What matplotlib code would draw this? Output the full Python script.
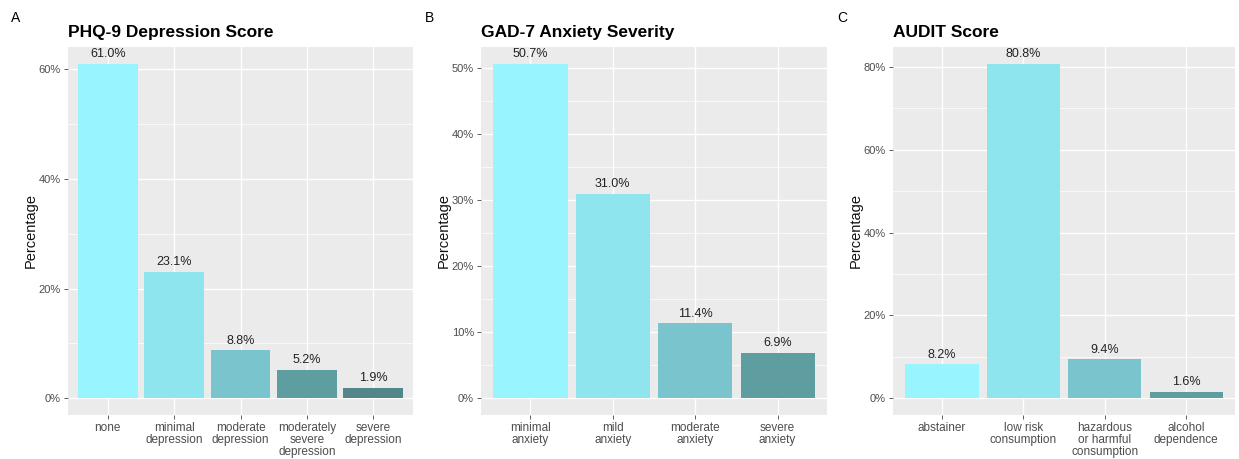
import numpy as np
import matplotlib.pyplot as plt
from matplotlib.ticker import MultipleLocator, FuncFormatter

plt.rcParams['font.family'] = ['Liberation Sans', 'DejaVu Sans']

# panel A
phq_labels = ["none", "minimal\ndepression", "moderate\ndepression",
              "moderately\nsevere\ndepression", "severe\ndepression"]
phq_values = [61.0, 23.1, 8.8, 5.2, 1.9]
phq_colors = ["#98F5FF", "#8EE5EE", "#7AC5CD", "#5F9EA0", "#53868B"]

# panel B
gad_labels = ["minimal\nanxiety", "mild\nanxiety", "moderate\nanxiety", "severe\nanxiety"]
gad_values = [50.7, 31.0, 11.4, 6.9]
gad_colors = ["#98F5FF", "#8EE5EE", "#7AC5CD", "#5F9EA0"]

# panel C
audit_labels = ["abstainer", "low risk\nconsumption", "hazardous\nor harmful\nconsumption",
                "alcohol\ndependence"]
audit_values = [8.2, 80.8, 9.4, 1.6]
audit_colors = ["#98F5FF", "#8EE5EE", "#7AC5CD", "#5F9EA0"]

W, H = 1239, 459
fig = plt.figure(figsize=(W / 100, H / 100), dpi=100)


def panel(left, right, letter, letter_x, title, labels, values, colors, major, minor):
    ax = fig.add_axes([left / W, 1 - 415 / H, (right - left) / W, (415 - 47) / H])
    ax.set_facecolor("#EBEBEB")
    x = np.arange(len(values))
    top = max(values) * 1.05
    ax.set_ylim(-max(values) * 0.05, top)
    ax.set_xlim(-0.6, len(values) - 0.4)
    ax.yaxis.set_major_locator(MultipleLocator(major))
    ax.yaxis.set_minor_locator(MultipleLocator(minor))
    ax.yaxis.set_major_formatter(FuncFormatter(lambda v, p: "%d%%" % round(v)))
    ax.grid(True, which="major", color="white", lw=1.0, zorder=0)
    ax.grid(True, which="minor", axis="y", color="white", lw=0.5, zorder=0)
    ax.set_axisbelow(True)
    ax.bar(x, values, width=0.9, color=colors, zorder=2)
    for xi, v in zip(x, values):
        ax.annotate("%.1f%%" % v, (xi, v), xytext=(0, 2.5), textcoords="offset points",
                    ha="center", va="bottom", fontsize=9, color="#222222")
    ax.set_xticks(x)
    ax.set_xticklabels(labels, fontsize=8.5, color="#4D4D4D", linespacing=1.0)
    ax.tick_params(axis="y", which="minor", length=0)
    ax.tick_params(axis="both", which="major", length=3, width=0.6, color="#444444",
                   labelsize=8, labelcolor="#4D4D4D", pad=2)
    ax.tick_params(axis="x", labelsize=8.5)
    for s in ax.spines.values():
        s.set_visible(False)
    ax.set_ylabel("Percentage", fontsize=10.5, color="#111111", labelpad=1)
    ax.set_title(title, loc="left", fontsize=12.5, fontweight="bold", pad=7)
    fig.text(letter_x / W, 1 - 18 / H, letter, fontsize=10, va="center", ha="left")
    return ax


panel(68, 413, "A", 11, "PHQ-9 Depression Score", phq_labels, phq_values, phq_colors, 20, 10)
panel(481, 827, "B", 425, "GAD-7 Anxiety Severity", gad_labels, gad_values, gad_colors, 10, 5)
panel(893, 1235, "C", 837, "AUDIT Score", audit_labels, audit_values, audit_colors, 20, 10)

fig.savefig("out.png", dpi=100)
